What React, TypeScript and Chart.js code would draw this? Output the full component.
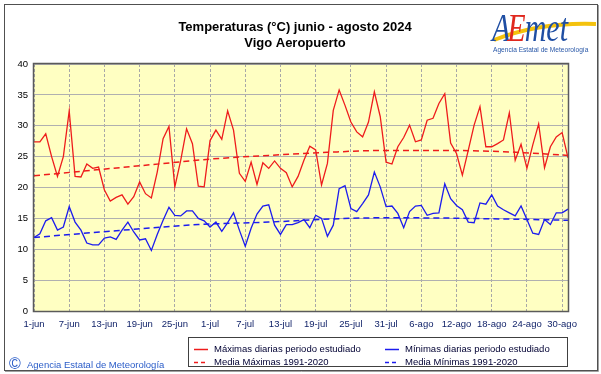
import React, { useEffect, useRef } from "react";
import { Chart, registerables } from "chart.js";
Chart.register(...registerables);

const tickDays = [0, 6, 12, 18, 24, 30, 36, 42, 48, 54, 60, 66, 72, 78, 84, 90];
const tickLabels = ["1-jun", "7-jun", "13-jun", "19-jun", "25-jun", "1-jul", "7-jul", "13-jul", "19-jul", "25-jul", "31-jul", "6-ago", "12-ago", "18-ago", "24-ago", "30-ago"];

const maxTemps = [
  27.4, 27.4, 28.7, 25.0, 21.8, 25.0, 32.4, 21.8, 21.7, 23.8,
  23.1, 23.3, 19.6, 17.8, 18.4, 18.8, 17.3, 18.5, 20.9, 19.0,
  18.3, 22.5, 27.9, 29.9, 20.1, 24.4, 29.5, 27.1, 20.2, 20.1,
  27.6, 29.3, 27.8, 32.4, 29.3, 22.3, 21.0, 24.1, 20.5, 24.0,
  23.1, 24.3, 23.1, 22.4, 20.1, 21.8, 24.4, 26.7, 26.1, 20.4,
  23.9, 32.5, 35.8, 33.3, 30.6, 29.0, 28.2, 30.6, 35.5, 31.5,
  24.1, 23.8, 26.6, 28.1, 30.1, 27.4, 27.7, 30.9, 31.2, 33.6,
  35.2, 27.2, 25.5, 22.0, 26.0, 30.1, 33.1, 26.6, 26.6, 27.1,
  27.7, 32.1, 24.4, 27.0, 23.1, 26.9, 30.3, 23.2, 26.6, 28.2,
  28.9, 24.8,
];

const minTemps = [
  11.9, 12.5, 14.6, 15.1, 13.1, 13.6, 16.9, 14.4, 13.1, 11.0,
  10.7, 10.7, 11.8, 12.0, 11.6, 13.1, 14.4, 12.8, 11.5, 11.7,
  9.8, 12.4, 14.7, 16.8, 15.5, 15.4, 16.2, 16.2, 15.0, 14.6,
  13.6, 14.4, 12.9, 14.3, 15.9, 13.1, 10.5, 13.4, 15.7, 17.0,
  17.2, 13.9, 12.4, 14.0, 14.0, 14.3, 14.8, 13.5, 15.5, 15.0,
  12.1, 13.9, 19.8, 20.3, 16.6, 16.1, 17.4, 18.8, 22.5, 20.1,
  16.9, 17.0, 15.8, 13.5, 16.1, 17.0, 17.1, 15.5, 15.8, 15.9,
  20.6, 18.2, 17.1, 16.4, 14.4, 14.3, 17.5, 17.3, 18.8, 17.0,
  16.4, 15.9, 15.4, 17.0, 14.8, 12.6, 12.4, 14.8, 14.0, 15.9,
  15.9, 16.5,
];

// climatological means read at selected days (day index, value)
const meanMaxDays = [0, 10, 20, 30, 40, 50, 60, 70, 80, 91];
const meanMaxVals = [21.9, 22.8, 23.7, 24.6, 25.2, 25.7, 26.0, 26.0, 25.8, 25.2];
const meanMinDays = [0, 14, 28, 40, 52, 60, 70, 80, 91];
const meanMinVals = [11.9, 13.0, 14.0, 14.4, 14.95, 15.1, 15.05, 14.9, 14.7];

const RED = "#ee1c1c";
const BLUE = "#1c1cee";

const decorPlugin = {
  id: "decor",
  beforeDraw(chart: any) {
    const ctx = chart.ctx;
    const a = chart.chartArea;
    ctx.save();
    ctx.fillStyle = "#ffffff";
    ctx.fillRect(0, 0, chart.width, chart.height);
    ctx.fillStyle = "#ffffc2";
    ctx.fillRect(a.left, a.top, a.right - a.left, a.bottom - a.top);
    ctx.restore();
  },
  afterDraw(chart: any) {
    const ctx = chart.ctx;
    const a = chart.chartArea;
    ctx.save();
    // plot border
    ctx.strokeStyle = "#5a5a5a";
    ctx.lineWidth = 1.5;
    ctx.strokeRect(a.left - 0.5, a.top - 0.5, a.right - a.left + 1, a.bottom - a.top + 1);
    // outer frame
    ctx.lineWidth = 1;
    ctx.strokeStyle = "#505050";
    ctx.strokeRect(4.5, 4.5, 593, 366);
    ctx.strokeStyle = "#a0a0a0";
    ctx.beginPath();
    ctx.moveTo(5, 371.5);
    ctx.lineTo(598.5, 371.5);
    ctx.lineTo(598.5, 5);
    ctx.stroke();

    // title
    ctx.fillStyle = "#000000";
    ctx.font = "bold 13px 'Liberation Sans', Arial, sans-serif";
    ctx.textAlign = "center";
    ctx.textBaseline = "middle";
    ctx.fillText("Temperaturas (°C) junio - agosto 2024", 295, 27);
    ctx.fillText("Vigo Aeropuerto", 295, 43);

    // logo
    ctx.save();
    ctx.strokeStyle = "#f4c20d";
    ctx.lineWidth = 4;
    ctx.beginPath();
    ctx.moveTo(494, 40);
    ctx.quadraticCurveTo(540, 22, 596, 24);
    ctx.stroke();
    ctx.textAlign = "left";
    ctx.textBaseline = "alphabetic";
    ctx.translate(492, 41);
    ctx.scale(1, 1.3);
    ctx.font = "italic 30px 'Liberation Serif', serif";
    ctx.fillStyle = "#1f4ea3";
    ctx.fillText("A", 0, 0);
    const wA = ctx.measureText("A").width;
    ctx.fillStyle = "#e0281e";
    ctx.fillText("E", wA - 3, 0);
    const wE = ctx.measureText("E").width;
    ctx.fillStyle = "#1f4ea3";
    ctx.fillText("met", wA + wE - 4, 0);
    ctx.restore();
    ctx.fillStyle = "#2a58a8";
    ctx.font = "6.6px 'Liberation Sans', Arial, sans-serif";
    ctx.textAlign = "left";
    ctx.textBaseline = "middle";
    ctx.fillText("Agencia Estatal de Meteorología", 493, 50);

    // copyright
    ctx.fillStyle = "#2a5cc8";
    ctx.font = "16px 'Liberation Sans', Arial, sans-serif";
    ctx.fillText("©", 9, 365);
    ctx.font = "9.5px 'Liberation Sans', Arial, sans-serif";
    ctx.fillText("Agencia Estatal de Meteorología", 27, 365);

    // legend box
    ctx.fillStyle = "#ffffff";
    ctx.fillRect(188, 337, 380, 30);
    ctx.strokeStyle = "#404040";
    ctx.lineWidth = 1;
    ctx.strokeRect(188.5, 337.5, 379, 29);
    const items = [
      { x: 194, y: 349, color: RED, dash: [] as number[], text: "Máximas diarias periodo estudiado" },
      { x: 385, y: 349, color: BLUE, dash: [] as number[], text: "Mínimas diarias periodo estudiado" },
      { x: 194, y: 362, color: RED, dash: [4, 3], text: "Media Máximas 1991-2020" },
      { x: 385, y: 362, color: BLUE, dash: [4, 3], text: "Media Mínimas 1991-2020" },
    ];
    ctx.font = "9.5px 'Liberation Sans', Arial, sans-serif";
    for (const it of items) {
      ctx.strokeStyle = it.color;
      ctx.lineWidth = 1.5;
      ctx.setLineDash(it.dash);
      ctx.beginPath();
      ctx.moveTo(it.x, it.y + 0.5);
      ctx.lineTo(it.x + 14, it.y + 0.5);
      ctx.stroke();
      ctx.setLineDash([]);
      ctx.fillStyle = "#000033";
      ctx.fillText(it.text, it.x + 20, it.y);
    }
    ctx.restore();
  },
};

export default function App() {
  const ref = useRef<HTMLCanvasElement>(null);
  useEffect(() => {
    document.body.style.margin = "0";
    const canvas = ref.current!;
    const chart = new Chart(canvas, {
      type: "line",
      data: {
        datasets: [
          {
            label: "Máximas diarias periodo estudiado",
            data: maxTemps.map((v, i) => ({ x: i, y: v })),
            borderColor: RED,
            borderWidth: 1.3,
            pointRadius: 0,
            tension: 0,
          },
          {
            label: "Mínimas diarias periodo estudiado",
            data: minTemps.map((v, i) => ({ x: i, y: v })),
            borderColor: BLUE,
            borderWidth: 1.3,
            pointRadius: 0,
            tension: 0,
          },
          {
            label: "Media Máximas 1991-2020",
            data: meanMaxDays.map((d, i) => ({ x: d, y: meanMaxVals[i] })),
            borderColor: RED,
            borderWidth: 1.5,
            borderDash: [6, 4],
            pointRadius: 0,
            cubicInterpolationMode: "monotone",
          },
          {
            label: "Media Mínimas 1991-2020",
            data: meanMinDays.map((d, i) => ({ x: d, y: meanMinVals[i] })),
            borderColor: BLUE,
            borderWidth: 1.5,
            borderDash: [6, 4],
            pointRadius: 0,
            cubicInterpolationMode: "monotone",
          },
        ],
      },
      options: {
        responsive: false,
        animation: false,
        devicePixelRatio: 1,
        layout: { padding: { left: 0, right: 33, top: 64, bottom: 0 } },
        plugins: {
          legend: { display: false },
          title: { display: false },
          tooltip: { enabled: false },
        },
        scales: {
          x: {
            type: "linear",
            min: 0,
            max: 91,
            afterFit: (s: any) => {
              s.height = 63;
            },
            afterBuildTicks: (s: any) => {
              s.ticks = tickDays.map((v) => ({ value: v }));
            },
            ticks: {
              autoSkip: false,
              maxRotation: 0,
              padding: 8,
              color: "#0c1e66",
              font: { family: "'Liberation Sans', Arial, sans-serif", size: 9.5 },
              callback: (v: any) => {
                const i = tickDays.indexOf(Number(v));
                return i >= 0 ? tickLabels[i] : "";
              },
            },
            grid: { color: "#a8a8a8", drawTicks: false, lineWidth: 1 },
            border: { display: false, dash: [3, 2] },
          },
          y: {
            min: 0,
            max: 40,
            afterFit: (s: any) => {
              s.width = 34;
            },
            ticks: {
              stepSize: 5,
              padding: 6,
              color: "#000000",
              font: { family: "'Liberation Sans', Arial, sans-serif", size: 9.5 },
            },
            grid: { color: "#b0b0b0", drawTicks: false, lineWidth: 1 },
            border: { display: false },
          },
        },
      },
      plugins: [decorPlugin],
    } as any);
    return () => chart.destroy();
  }, []);
  return <canvas ref={ref} width={601} height={374} style={{ display: "block" }} />;
}
